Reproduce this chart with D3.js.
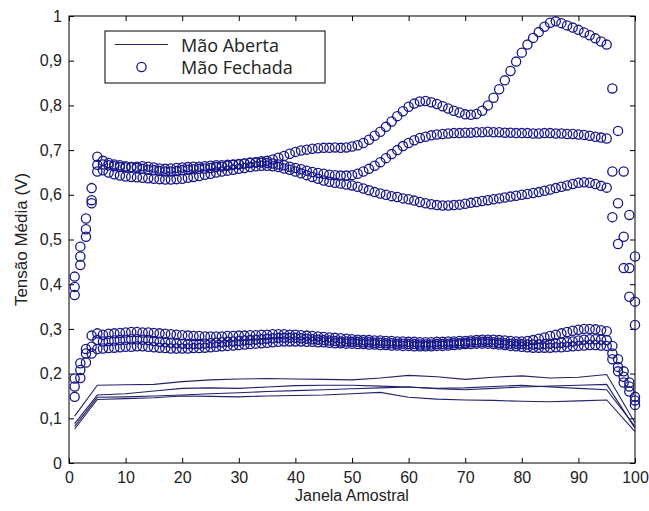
<!DOCTYPE html>
<html><head><meta charset="utf-8">
<script src="https://cdn.jsdelivr.net/npm/d3@7/dist/d3.min.js"></script>
<style>body{margin:0;background:#fff}svg{display:block}</style>
</head><body><svg id="c" width="649" height="511"></svg>
<script>
// ---- data ----
const xTicks = [0,10,20,30,40,50,60,70,80,90,100];
const yTicks = [0,0.1,0.2,0.3,0.4,0.5,0.6,0.7,0.8,0.9,1];
const yTickLabels = ["0","0,1","0,2","0,3","0,4","0,5","0,6","0,7","0,8","0,9","1"];
const legendLabels = ["Mão Aberta","Mão Fechada"];
const xLabel = "Janela Amostral";
const yLabel = "Tensão Média (V)";

// Mão Aberta (lines) sampled at lineX
const lineX = [1,5,10,15,20,25,30,35,40,45,50,55,60,65,70,75,80,85,90,95,100];
const abertaA = [0.105,0.174,0.175,0.176,0.182,0.186,0.188,0.189,0.188,0.187,0.186,0.190,0.196,0.193,0.187,0.192,0.195,0.190,0.192,0.198,0.090];
const abertaB = [0.088,0.152,0.155,0.161,0.167,0.168,0.167,0.170,0.173,0.174,0.174,0.172,0.170,0.167,0.168,0.171,0.174,0.170,0.167,0.164,0.082];
const abertaC = [0.082,0.147,0.148,0.150,0.152,0.155,0.157,0.160,0.162,0.164,0.166,0.168,0.170,0.166,0.164,0.167,0.170,0.172,0.174,0.176,0.078];
const abertaD = [0.076,0.142,0.144,0.146,0.150,0.149,0.148,0.150,0.151,0.152,0.155,0.158,0.147,0.143,0.141,0.140,0.138,0.137,0.139,0.141,0.070];

// Mão Fechada (circles), one value per window 1..100
const fechadaU1 = [
0.417,0.484,0.547,0.615,0.685, 0.676,0.671,0.668,0.666,0.664, 0.662,0.660,0.658,0.656,0.655, 0.653,0.652,0.652,0.653,0.655,
0.656,0.657,0.658,0.659,0.660, 0.662,0.663,0.665,0.667,0.668, 0.670,0.672,0.673,0.675,0.676, 0.679,0.683,0.687,0.692,0.696,
0.699,0.701,0.703,0.704,0.705, 0.705,0.706,0.705,0.706,0.708, 0.711,0.716,0.723,0.732,0.741, 0.752,0.764,0.776,0.787,0.797,
0.804,0.809,0.810,0.807,0.803, 0.798,0.793,0.788,0.784,0.780, 0.779,0.781,0.788,0.800,0.817, 0.836,0.856,0.877,0.898,0.918,
0.936,0.951,0.964,0.976,0.985, 0.988,0.984,0.979,0.974,0.969, 0.963,0.957,0.950,0.943,0.936, 0.838,0.743,0.652,0.555,0.462];
const fechadaU2 = [
0.394,0.462,0.523,0.588,0.667, 0.668,0.666,0.664,0.662,0.661, 0.662,0.663,0.664,0.663,0.661, 0.659,0.658,0.659,0.660,0.661,
0.662,0.663,0.663,0.664,0.665, 0.666,0.666,0.667,0.668,0.669, 0.670,0.671,0.672,0.672,0.671, 0.670,0.668,0.666,0.663,0.660,
0.657,0.654,0.651,0.649,0.647, 0.645,0.644,0.643,0.643,0.644, 0.647,0.652,0.658,0.665,0.673, 0.682,0.691,0.700,0.709,0.716,
0.722,0.727,0.730,0.733,0.735, 0.736,0.737,0.738,0.738,0.739, 0.739,0.740,0.740,0.741,0.740, 0.740,0.739,0.739,0.738,0.738,
0.738,0.737,0.737,0.738,0.738, 0.737,0.737,0.736,0.736,0.735, 0.734,0.732,0.730,0.728,0.726, 0.652,0.581,0.506,0.436,0.361];
const fechadaU3 = [
0.376,0.443,0.506,0.581,0.652, 0.655,0.650,0.646,0.643,0.641, 0.640,0.639,0.638,0.637,0.636, 0.635,0.634,0.634,0.635,0.636,
0.638,0.640,0.642,0.645,0.647, 0.650,0.652,0.654,0.656,0.658, 0.660,0.662,0.664,0.665,0.665, 0.664,0.662,0.659,0.656,0.652,
0.648,0.644,0.640,0.636,0.632, 0.629,0.627,0.625,0.623,0.621, 0.618,0.614,0.610,0.606,0.603, 0.600,0.597,0.595,0.592,0.590,
0.587,0.584,0.581,0.579,0.577, 0.576,0.576,0.577,0.578,0.580, 0.582,0.584,0.586,0.588,0.590, 0.592,0.594,0.596,0.598,0.600,
0.602,0.604,0.606,0.609,0.612, 0.615,0.618,0.621,0.624,0.627, 0.628,0.627,0.624,0.620,0.616, 0.550,0.490,0.436,0.372,0.309];
const fechadaL1 = [
0.189,0.223,0.255,0.285,0.290, 0.287,0.289,0.290,0.291,0.292, 0.293,0.293,0.292,0.292,0.291, 0.290,0.289,0.288,0.287,0.286,
0.285,0.284,0.284,0.283,0.283, 0.283,0.283,0.284,0.284,0.285, 0.285,0.286,0.286,0.287,0.287, 0.288,0.288,0.288,0.287,0.287,
0.286,0.285,0.284,0.283,0.282, 0.281,0.280,0.279,0.278,0.277, 0.276,0.275,0.275,0.274,0.274, 0.273,0.273,0.272,0.272,0.271,
0.271,0.270,0.270,0.270,0.271, 0.271,0.272,0.272,0.273,0.273, 0.274,0.275,0.276,0.276,0.276, 0.275,0.274,0.273,0.272,0.272,
0.273,0.275,0.278,0.281,0.284, 0.287,0.290,0.293,0.296,0.298, 0.300,0.300,0.299,0.297,0.295, 0.262,0.232,0.205,0.180,0.148];
const fechadaL2 = [
0.171,0.208,0.245,0.260,0.275, 0.272,0.273,0.274,0.275,0.276, 0.277,0.277,0.276,0.275,0.273, 0.271,0.270,0.269,0.268,0.267,
0.266,0.266,0.266,0.267,0.268, 0.269,0.270,0.271,0.272,0.273, 0.274,0.275,0.276,0.277,0.278, 0.279,0.280,0.280,0.280,0.280,
0.279,0.278,0.277,0.276,0.275, 0.274,0.273,0.272,0.272,0.271, 0.271,0.270,0.270,0.269,0.269, 0.268,0.268,0.267,0.267,0.266,
0.266,0.265,0.265,0.265,0.266, 0.266,0.267,0.268,0.268,0.269, 0.270,0.270,0.271,0.271,0.270, 0.269,0.268,0.267,0.266,0.266,
0.265,0.265,0.265,0.266,0.267, 0.268,0.269,0.270,0.272,0.274, 0.276,0.277,0.277,0.276,0.275, 0.245,0.215,0.193,0.171,0.140];
const fechadaL3 = [
0.148,0.190,0.225,0.245,0.255, 0.256,0.257,0.258,0.259,0.260, 0.260,0.261,0.261,0.260,0.259, 0.258,0.257,0.256,0.256,0.256,
0.256,0.257,0.257,0.258,0.259, 0.260,0.261,0.262,0.263,0.264, 0.265,0.266,0.267,0.268,0.269, 0.270,0.271,0.272,0.272,0.272,
0.272,0.271,0.271,0.270,0.270, 0.269,0.268,0.268,0.267,0.267, 0.266,0.266,0.265,0.265,0.264, 0.264,0.263,0.263,0.262,0.262,
0.261,0.261,0.261,0.261,0.262, 0.262,0.263,0.264,0.265,0.266, 0.266,0.267,0.267,0.267,0.266, 0.265,0.264,0.262,0.261,0.260,
0.259,0.258,0.258,0.258,0.258, 0.259,0.259,0.260,0.261,0.262, 0.263,0.264,0.264,0.263,0.262, 0.232,0.205,0.180,0.160,0.130];

const abertaSeries = [abertaA, abertaB, abertaC, abertaD];
const fechadaSeries = [fechadaU1, fechadaU2, fechadaU3, fechadaL1, fechadaL2, fechadaL3];

// ---- drawing ----
const m = {left: 69, top: 16, right: 635, bottom: 463};
const svg = d3.select("#c");
const x = d3.scaleLinear().domain([0,100]).range([m.left, m.right]);
const y = d3.scaleLinear().domain([0,1]).range([m.bottom, m.top]);
const tickFont = "'Liberation Sans', Arial, sans-serif";
const lineColor = "#22226a";
const markColor = "#16168a";

function styleAxis(g, showLabels) {
  g.select(".domain").remove();
  g.selectAll(".tick line").attr("stroke", "#000").attr("stroke-width", 1);
  g.selectAll(".tick text").attr("font-family", tickFont).attr("font-size", 16).attr("fill", "#222");
  if (!showLabels) g.selectAll(".tick text").remove();
}

svg.append("g").attr("transform", `translate(0,${m.bottom})`)
  .call(d3.axisBottom(x).tickValues(xTicks).tickSize(-5).tickPadding(9).tickFormat(d3.format("d")))
  .call(g => styleAxis(g, true));
svg.append("g").attr("transform", `translate(0,${m.top})`)
  .call(d3.axisTop(x).tickValues(xTicks).tickSize(-5).tickFormat(""))
  .call(g => styleAxis(g, false));
svg.append("g").attr("transform", `translate(${m.left},0)`)
  .call(d3.axisLeft(y).tickValues(yTicks).tickSize(-5).tickPadding(7).tickFormat((d,i) => yTickLabels[i]))
  .call(g => styleAxis(g, true));
svg.append("g").attr("transform", `translate(${m.right},0)`)
  .call(d3.axisRight(y).tickValues(yTicks).tickSize(-5).tickFormat(""))
  .call(g => styleAxis(g, false));

svg.append("rect").attr("x", m.left).attr("y", m.top)
  .attr("width", m.right - m.left).attr("height", m.bottom - m.top)
  .attr("fill", "none").attr("stroke", "#000").attr("stroke-width", 1);

// lines
const lineGen = d3.line().x((d,i) => x(lineX[i])).y(d => y(d));
svg.append("g").selectAll("path").data(abertaSeries).join("path")
  .attr("d", lineGen).attr("fill", "none").attr("stroke", lineColor).attr("stroke-width", 1.1);

// circles
const cg = svg.append("g");
fechadaSeries.forEach(s => {
  cg.append("g").selectAll("circle").data(s).join("circle")
    .attr("cx", (d,i) => x(i + 1)).attr("cy", d => y(d)).attr("r", 4.6)
    .attr("fill", "none").attr("stroke", markColor).attr("stroke-width", 1.3);
});

// axis labels
svg.append("text").attr("x", (m.left + m.right)/2).attr("y", 501)
  .attr("text-anchor", "middle").attr("font-family", tickFont).attr("font-size", 16).attr("fill", "#222")
  .text(xLabel);
svg.append("text").attr("transform", `translate(27,${(m.top + m.bottom)/2}) rotate(-90)`)
  .attr("text-anchor", "middle").attr("font-family", tickFont).attr("font-size", 17).attr("fill", "#222")
  .text(yLabel);

// legend
const lg = svg.append("g");
lg.append("rect").attr("x", 105).attr("y", 31).attr("width", 220).attr("height", 52)
  .attr("fill", "#fff").attr("stroke", "#000").attr("stroke-width", 1);
const legFont = "'Open Sans', 'Noto Sans', sans-serif";
lg.append("line").attr("x1", 115).attr("x2", 168).attr("y1", 44.5).attr("y2", 44.5)
  .attr("stroke", lineColor).attr("stroke-width", 1.1);
lg.append("circle").attr("cx", 141.5).attr("cy", 67).attr("r", 4.6)
  .attr("fill", "none").attr("stroke", markColor).attr("stroke-width", 1.3);
lg.selectAll("text.leg").data(legendLabels).join("text").attr("class", "leg")
  .attr("x", 181).attr("y", (d,i) => 51.5 + i * 22)
  .attr("font-family", legFont).attr("font-size", 18).attr("fill", "#222")
  .text(d => d);
</script></body></html>
